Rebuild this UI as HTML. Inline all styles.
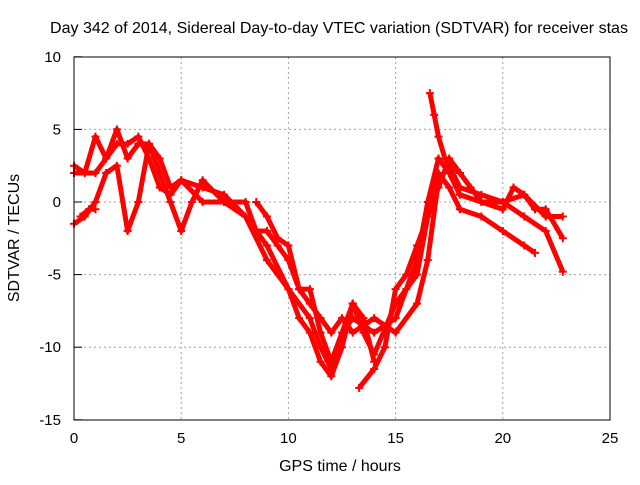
<!DOCTYPE html>
<html><head><meta charset="utf-8"><style>
body{margin:0;background:#fff;}
svg text{font-family:"Liberation Sans",sans-serif;font-size:15px;fill:#000;}
svg text.big{font-size:16px;}
</style></head><body>
<svg id="chart" width="640" height="480" viewBox="0 0 640 480" xmlns="http://www.w3.org/2000/svg">
<text class="big" x="50" y="33" textLength="578" lengthAdjust="spacingAndGlyphs">Day 342 of 2014, Sidereal Day-to-day VTEC variation (SDTVAR) for receiver stas</text>
<g id="grid"></g>
<g id="series"></g>
<rect x="74" y="57" width="536" height="363" fill="none" stroke="#000" stroke-width="1"/>
<g id="ticks"></g>
<text class="big" x="340" y="471" text-anchor="middle">GPS time / hours</text>
<text class="big" x="0" y="0" text-anchor="middle" transform="translate(19,238) rotate(-90)">SDTVAR / TECUs</text>
</svg>
<script>
const xTicks=[0,5,10,15,20,25];
const yTicks=[10,5,0,-5,-10,-15];
const trackA_x=[0,0.5,1,1.5,2,2.5,3,3.5,4,4.5,5,5.5,6,7,8,8.5,9,10,11,11.5,12,12.5,13,14,15,16,16.5,17,17.5,18,19,20,21,22,22.8];
const trackA_y=[2.5,2,4.5,3,5,3,4,4,2,0,-2,0,1.5,0,0,-2,-3,-6,-8,-10,-11.5,-9,-8,-9,-8,-4,0,3,2,0.5,0,0,0.5,-1,-1];
const trackB_x=[0,0.5,1,1.5,2,2.5,3,3.5,4,4.5,5,6,7,8,9,10,10.5,11,11.5,12,12.5,13,13.5,14,15,15.5,16,16.5,17,17.5,18,19,20,21,21.5];
const trackB_y=[-1.5,-1,0,2,2.5,-2,0,4,3,1,1.5,1,0.5,-1,-4,-6,-8,-9,-11,-12,-10,-7,-9,-10.5,-7,-6,-5,-1,2,1,-0.5,-1,-2,-3,-3.5];
const trackC_x=[0,1,2,2.5,3,3.5,4,4.5,5,6,7,8,8.5,9,9.5,10,10.5,11,11.5,12,12.5,13,14,15,16,16.5,17,17.5,18,19,20,21,22,22.8];
const trackC_y=[2,2,4,4,4.5,3,1,0.5,1.5,0,0,-1,-2,-2,-3,-4,-6,-7,-8,-9,-8,-9,-8,-9,-7,-4,1.5,2.5,1,0.5,0,-1,-2,-4.8];
const trackF_x=[16.6,16.8,17,17.3,17.6,18];
const trackF_y=[7.5,6,4.5,3,2.5,2];
const trackD1_x=[0.3,0.7,1];
const trackD1_y=[-1,-0.5,-0.5];
const trackD_x=[8.5,9,9.5,10,10.5,11,11.5,12,13,13.5,14];
const trackD_y=[0,-1,-2.5,-3,-6,-6,-9,-11,-7,-8,-11];
const trackE_x=[13.3,14,14.5,15,15.5,16,16.5,17,17.5,18,18.5,19,20,20.5,21,21.5,22,22.8];
const trackE_y=[-12.8,-11.5,-10,-6,-5,-3,-1,1,3,2,1,0,-0.5,1,0.5,-0.5,-0.5,-2.5];
const tracks=[[trackA_x,trackA_y],[trackB_x,trackB_y],[trackC_x,trackC_y],[trackD1_x,trackD1_y],[trackD_x,trackD_y],[trackE_x,trackE_y],[trackF_x,trackF_y]];
const NS="http://www.w3.org/2000/svg";
const X=v=>74+v*536/25;
const Y=v=>202-v*363/25;
const grid=document.getElementById('grid'),ticks=document.getElementById('ticks'),ser=document.getElementById('series');
function mk(t,a,p){const e=document.createElementNS(NS,t);for(const k in a)e.setAttribute(k,a[k]);p.appendChild(e);return e;}
xTicks.forEach(v=>{
  if(v>0&&v<25){const l=mk('line',{x1:X(v),x2:X(v),y1:57,y2:420,stroke:'#a0a0a0','stroke-dasharray':'2,3'},grid);
  
  }
  const t=mk('text',{x:X(v),y:443,'text-anchor':'middle'},ticks);t.textContent=v;
  
  
});
yTicks.forEach(v=>{
  if(v<10&&v>-15){const l=mk('line',{x1:74,x2:610,y1:Y(v),y2:Y(v),stroke:'#a0a0a0','stroke-dasharray':'2,3'},grid);
  
  }
  const tk=mk('line',{x1:74,x2:82,y1:Y(v),y2:Y(v),stroke:'#000'},ticks);
  
  
  const t=mk('text',{x:61,y:Y(v)+5,'text-anchor':'end'},ticks);t.textContent=v;
  
  
});
tracks.forEach((tr,i)=>{
  const pts=tr[0].map((x,j)=>X(x)+','+Y(tr[1][j])).join(' ');
  const pl=mk('polyline',{points:pts,fill:'none',stroke:'#ff0000','stroke-width':5,'stroke-linejoin':'round'},ser);
  
  
  tr[0].forEach((x,j)=>{
    const cx=X(x),cy=Y(tr[1][j]);
    const p=mk('path',{d:`M${cx-4},${cy}H${cx+4}M${cx},${cy-4}V${cy+4}`,stroke:'#ff0000','stroke-width':2},ser);
    
    
  });
});
</script>
</body></html>
